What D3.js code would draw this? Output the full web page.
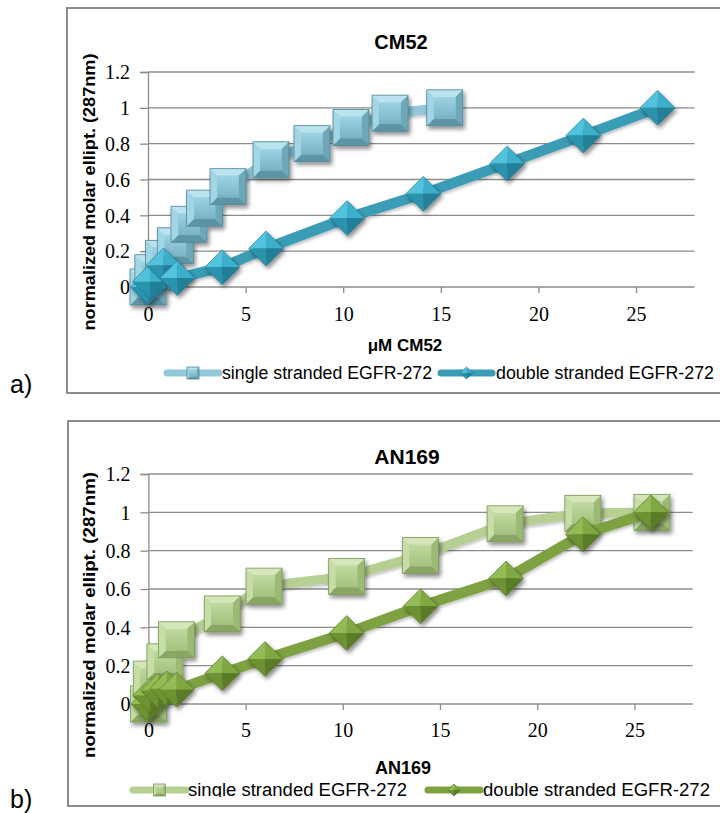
<!DOCTYPE html>
<html>
<head>
<meta charset="utf-8">
<script src="https://cdn.jsdelivr.net/npm/d3@7"></script>
<style>
  html, body { margin: 0; padding: 0; background: #ffffff; }
  svg { display: block; }
</style>
</head>
<body>
<svg id="chart" width="720" height="813"></svg>
<script>
// ---- data ----
const cm52SingleX = [0, 0.25, 0.8, 1.4, 2.1, 2.9, 4.1, 6.3, 8.4, 10.4, 12.4, 15.2];
const cm52SingleY = [0, 0.08, 0.16, 0.23, 0.35, 0.44, 0.56, 0.71, 0.80, 0.89, 0.97, 1.0];
const cm52DoubleX = [0, 0.1, 0.8, 1.5, 3.8, 6.05, 10.2, 14.1, 18.4, 22.3, 26.1];
const cm52DoubleY = [0, 0.03, 0.12, 0.05, 0.11, 0.215, 0.385, 0.52, 0.69, 0.845, 1.0];

const an169SingleX = [0, 0.15, 0.85, 1.45, 3.8, 5.95, 10.2, 14.0, 18.35, 22.35, 25.9];
const an169SingleY = [0, 0.13, 0.22, 0.335, 0.47, 0.615, 0.665, 0.775, 0.94, 0.995, 1.0];
const an169DoubleX = [0, 0.1, 0.5, 0.95, 1.45, 3.8, 6.0, 10.2, 14.0, 18.4, 22.35, 25.85];
const an169DoubleY = [0, 0.045, 0.07, 0.08, 0.075, 0.16, 0.235, 0.37, 0.51, 0.655, 0.885, 1.0];

const xTicks = [0, 5, 10, 15, 20, 25];
const yTicks = [0, 0.2, 0.4, 0.6, 0.8, 1, 1.2];
const yTickLabels = ["0", "0.2", "0.4", "0.6", "0.8", "1", "1.2"];
const seriesNames = ["single stranded EGFR-272", "double stranded EGFR-272"];
const yTitle = "normalized molar ellipt. (287nm)";

const TICK_FONT = "'Liberation Serif', 'DejaVu Serif', serif";
const SANS = "'Liberation Sans', Arial, sans-serif";

const svg = d3.select("#chart");
const defs = svg.append("defs");

// soft drop shadow under the markers
const shadow = defs.append("filter").attr("id", "shadow")
  .attr("x", "-40%").attr("y", "-40%").attr("width", "180%").attr("height", "180%");
shadow.append("feGaussianBlur").attr("in", "SourceAlpha").attr("stdDeviation", 2.2).attr("result", "b");
shadow.append("feOffset").attr("in", "b").attr("dx", 2).attr("dy", 3).attr("result", "o");
shadow.append("feComponentTransfer").attr("in", "o").attr("result", "s")
  .append("feFuncA").attr("type", "linear").attr("slope", 0.45);
const merge = shadow.append("feMerge");
merge.append("feMergeNode").attr("in", "s");
merge.append("feMergeNode").attr("in", "SourceGraphic");

const lineShadow = defs.append("filter").attr("id", "lineShadow")
  .attr("x", "-10%").attr("y", "-10%").attr("width", "120%").attr("height", "130%");
lineShadow.append("feGaussianBlur").attr("in", "SourceAlpha").attr("stdDeviation", 1.5).attr("result", "b");
lineShadow.append("feOffset").attr("in", "b").attr("dx", 1).attr("dy", 2).attr("result", "o");
lineShadow.append("feComponentTransfer").attr("in", "o").attr("result", "s")
  .append("feFuncA").attr("type", "linear").attr("slope", 0.25);
const m2 = lineShadow.append("feMerge");
m2.append("feMergeNode").attr("in", "s");
m2.append("feMergeNode").attr("in", "SourceGraphic");

const palettes = {
  blue: {
    line1: "#93c7da", line2: "#3b9cb5",
    sq: { top: "#b8e3ef", left: "#a3d6e5", right: "#6da8b9", bottom: "#5d95a6", in1: "#9dd3e3", in2: "#78b3c5", edge: "#4f8596" },
    di: { tl: "#52c2dc", tr: "#3caecb", bl: "#2b93ae", br: "#217f98", edge: "#1f7189" }
  },
  green: {
    line1: "#b6cf93", line2: "#7ea142",
    sq: { top: "#d5e7b9", left: "#c6dda5", right: "#9cba73", bottom: "#89a662", in1: "#c0d99f", in2: "#a4c27e", edge: "#7a9656" },
    di: { tl: "#93bb56", tr: "#80a743", bl: "#6d9233", br: "#5a7b26", edge: "#526f22" }
  }
};

function gradFor(name, c1, c2) {
  const g = defs.append("linearGradient").attr("id", name)
    .attr("x1", 0).attr("y1", 0).attr("x2", 0).attr("y2", 1);
  g.append("stop").attr("offset", "0%").attr("stop-color", c1);
  g.append("stop").attr("offset", "100%").attr("stop-color", c2);
}
gradFor("sqInBlue", palettes.blue.sq.in1, palettes.blue.sq.in2);
gradFor("sqInGreen", palettes.green.sq.in1, palettes.green.sq.in2);

// bevelled square marker
function drawSquare(g, cx, cy, s, pal, gradId) {
  const h = s / 2, b = s * 0.2;
  const x0 = cx - h, x1 = cx + h, y0 = cy - h, y1 = cy + h;
  const mk = g.append("g");
  const poly = (pts, fill) => mk.append("polygon")
    .attr("points", pts.map(p => p.join(",")).join(" ")).attr("fill", fill);
  poly([[x0, y0], [x1, y0], [x1 - b, y0 + b], [x0 + b, y0 + b]], pal.top);
  poly([[x1, y0], [x1, y1], [x1 - b, y1 - b], [x1 - b, y0 + b]], pal.right);
  poly([[x1, y1], [x0, y1], [x0 + b, y1 - b], [x1 - b, y1 - b]], pal.bottom);
  poly([[x0, y1], [x0, y0], [x0 + b, y0 + b], [x0 + b, y1 - b]], pal.left);
  mk.append("rect").attr("x", x0 + b).attr("y", y0 + b)
    .attr("width", s - 2 * b).attr("height", s - 2 * b).attr("fill", `url(#${gradId})`);
  mk.append("rect").attr("x", x0).attr("y", y0).attr("width", s).attr("height", s)
    .attr("fill", "none").attr("stroke", pal.edge).attr("stroke-width", 0.8);
  return mk;
}

// faceted diamond marker
function drawDiamond(g, cx, cy, w, hgt, pal) {
  const hw = w / 2, hh = hgt / 2;
  const T = [cx, cy - hh], R = [cx + hw, cy], B = [cx, cy + hh], L = [cx - hw, cy], C = [cx, cy];
  const mk = g.append("g");
  const poly = (pts, fill) => mk.append("polygon")
    .attr("points", pts.map(p => p.join(",")).join(" ")).attr("fill", fill);
  poly([L, T, C], pal.tl);
  poly([T, R, C], pal.tr);
  poly([L, C, B], pal.bl);
  poly([C, R, B], pal.br);
  mk.append("polygon").attr("points", [T, R, B, L].map(p => p.join(",")).join(" "))
    .attr("fill", "none").attr("stroke", pal.edge).attr("stroke-width", 0.6);
  return mk;
}

function drawPanel(cfg) {
  const pal = palettes[cfg.palette];
  const g = svg.append("g");

  // outer frame
  g.append("rect").attr("x", cfg.box[0]).attr("y", cfg.box[1])
    .attr("width", cfg.box[2] - cfg.box[0]).attr("height", cfg.box[3] - cfg.box[1])
    .attr("fill", "#ffffff").attr("stroke", "#8c8c8c").attr("stroke-width", 2);

  const x = d3.scaleLinear().domain([0, 28]).range(cfg.xRange);
  const y = d3.scaleLinear().domain([0, 1.2]).range(cfg.yRange);

  // horizontal gridlines
  g.append("g").selectAll("line").data(yTicks.slice(1)).join("line")
    .attr("x1", x(0)).attr("x2", x(28))
    .attr("y1", d => y(d)).attr("y2", d => y(d))
    .attr("stroke", "#8c8c8c").attr("stroke-width", 1.3);

  // y axis
  const yAxis = d3.axisLeft(y).tickValues(yTicks).tickSize(8)
    .tickFormat((d, i) => yTickLabels[i]);
  const ya = g.append("g").attr("transform", `translate(${x(0)},0)`).call(yAxis);
  ya.attr("font-size", 20).attr("font-family", TICK_FONT);
  ya.select(".domain").attr("stroke", "#8c8c8c").attr("stroke-width", 1.3);
  ya.selectAll(".tick line").attr("stroke", "#8c8c8c").attr("stroke-width", 1.3);
  ya.selectAll(".tick text").attr("x", -18)
    .attr("font-size", 20).attr("font-family", TICK_FONT)
    .attr("fill", "#000").attr("dy", "0.34em");

  // x axis
  const xAxis = d3.axisBottom(x).tickValues(xTicks).tickSize(6);
  const xa = g.append("g").attr("transform", `translate(0,${y(0)})`).call(xAxis);
  xa.attr("font-size", 20).attr("font-family", TICK_FONT);
  xa.select(".domain").attr("stroke", "#8c8c8c").attr("stroke-width", 1.3)
    .attr("d", `M${x(0)},0H${x(28)}`);
  xa.selectAll(".tick line").attr("stroke", "#8c8c8c").attr("stroke-width", 1.3);
  xa.selectAll(".tick text").attr("y", cfg.xLabelDy).attr("dy", 0)
    .attr("font-size", 20).attr("font-family", TICK_FONT).attr("fill", "#000");

  // titles
  g.append("text").attr("x", cfg.title[1]).attr("y", cfg.title[2])
    .attr("text-anchor", "middle").attr("font-family", SANS)
    .attr("font-weight", "bold").attr("font-size", cfg.title[3]).text(cfg.title[0]);
  g.append("text").attr("x", cfg.xTitle[1]).attr("y", cfg.xTitle[2])
    .attr("text-anchor", "middle").attr("font-family", SANS)
    .attr("font-weight", "bold").attr("font-size", cfg.xTitle[3]).text(cfg.xTitle[0]);
  g.append("text")
    .attr("transform", `translate(${cfg.yTitle[0]},${cfg.yTitle[1]}) rotate(-90)`)
    .attr("text-anchor", "middle").attr("font-family", SANS)
    .attr("font-weight", "bold").attr("font-size", 16.5)
    .attr("textLength", cfg.yTitle[2]).attr("lengthAdjust", "spacingAndGlyphs")
    .text(yTitle);

  const line = d3.line().x(d => x(d[0])).y(d => y(d[1]));
  const s1 = d3.zip(cfg.s1x, cfg.s1y);
  const s2 = d3.zip(cfg.s2x, cfg.s2y);

  // single stranded: line then square markers
  g.append("path").attr("d", line(s1)).attr("fill", "none")
    .attr("stroke", pal.line1).attr("stroke-width", 9.5)
    .attr("stroke-linejoin", "round").attr("stroke-linecap", "round")
    .attr("filter", "url(#lineShadow)");
  const m1 = g.append("g").attr("filter", "url(#shadow)");
  s1.forEach(d => drawSquare(m1, x(d[0]), y(d[1]), 36, pal.sq, cfg.gradId));

  // double stranded: line then diamond markers
  g.append("path").attr("d", line(s2)).attr("fill", "none")
    .attr("stroke", pal.line2).attr("stroke-width", 10.5)
    .attr("stroke-linejoin", "round").attr("stroke-linecap", "round")
    .attr("filter", "url(#lineShadow)");
  const m2g = g.append("g").attr("filter", "url(#shadow)");
  s2.forEach(d => drawDiamond(m2g, x(d[0]), y(d[1]), 35, 35, pal.di));

  // legend (clipped to the frame area it sits in)
  const clipId = "clip" + cfg.palette;
  defs.append("clipPath").attr("id", clipId).append("rect")
    .attr("x", 0).attr("y", 0).attr("width", 720).attr("height", cfg.legendClip);
  const lg = g.append("g").attr("clip-path", `url(#${clipId})`);
  const ly = cfg.legendY;
  const L = cfg.legend;
  lg.append("line").attr("x1", L[0]).attr("x2", L[1]).attr("y1", ly).attr("y2", ly)
    .attr("stroke", pal.line1).attr("stroke-width", 7).attr("stroke-linecap", "round");
  drawSquare(lg, (L[0] + L[1]) / 2, ly, 12, pal.sq, cfg.gradId);
  lg.append("text").attr("x", L[2]).attr("y", ly + 6)
    .attr("font-family", SANS).attr("font-size", 18)
    .attr("textLength", L[3]).attr("lengthAdjust", "spacingAndGlyphs").text(seriesNames[0]);
  lg.append("line").attr("x1", L[4]).attr("x2", L[5]).attr("y1", ly).attr("y2", ly)
    .attr("stroke", pal.line2).attr("stroke-width", 7).attr("stroke-linecap", "round");
  drawDiamond(lg, (L[4] + L[5]) / 2, ly, 13, 12, pal.di);
  lg.append("text").attr("x", L[6]).attr("y", ly + 6)
    .attr("font-family", SANS).attr("font-size", 18)
    .attr("textLength", L[7]).attr("lengthAdjust", "spacingAndGlyphs").text(seriesNames[1]);

  // panel letter
  svg.append("text").attr("x", 10).attr("y", cfg.letter[1])
    .attr("font-family", SANS).attr("font-size", 25)
    .text(cfg.letter[0]);
}

drawPanel({
  palette: "blue", gradId: "sqInBlue",
  box: [67, 8, 730, 393],
  xRange: [148, 694.6], yRange: [287, 72],
  xLabelDy: 34,
  title: ["CM52", 401, 49, 20],
  xTitle: ["μM CM52", 405, 351, 17],
  yTitle: [95, 192, 277],
  s1x: cm52SingleX, s1y: cm52SingleY, s2x: cm52DoubleX, s2y: cm52DoubleY,
  legendY: 373, legendClip: 813,
  legend: [167, 219, 222, 210, 441, 492, 496, 218],
  letter: ["a)", 393]
});

drawPanel({
  palette: "green", gradId: "sqInGreen",
  box: [68, 421, 730, 806],
  xRange: [148.4, 692.7], yRange: [704, 474],
  xLabelDy: 33,
  title: ["AN169", 407, 464, 21],
  xTitle: ["AN169", 403, 774, 18],
  yTitle: [95, 615, 286],
  s1x: an169SingleX, s1y: an169SingleY, s2x: an169DoubleX, s2y: an169DoubleY,
  legendY: 790, legendClip: 797,
  legend: [133, 186, 188, 219, 428, 480, 483, 227],
  letter: ["b)", 808]
});
</script>
</body>
</html>
